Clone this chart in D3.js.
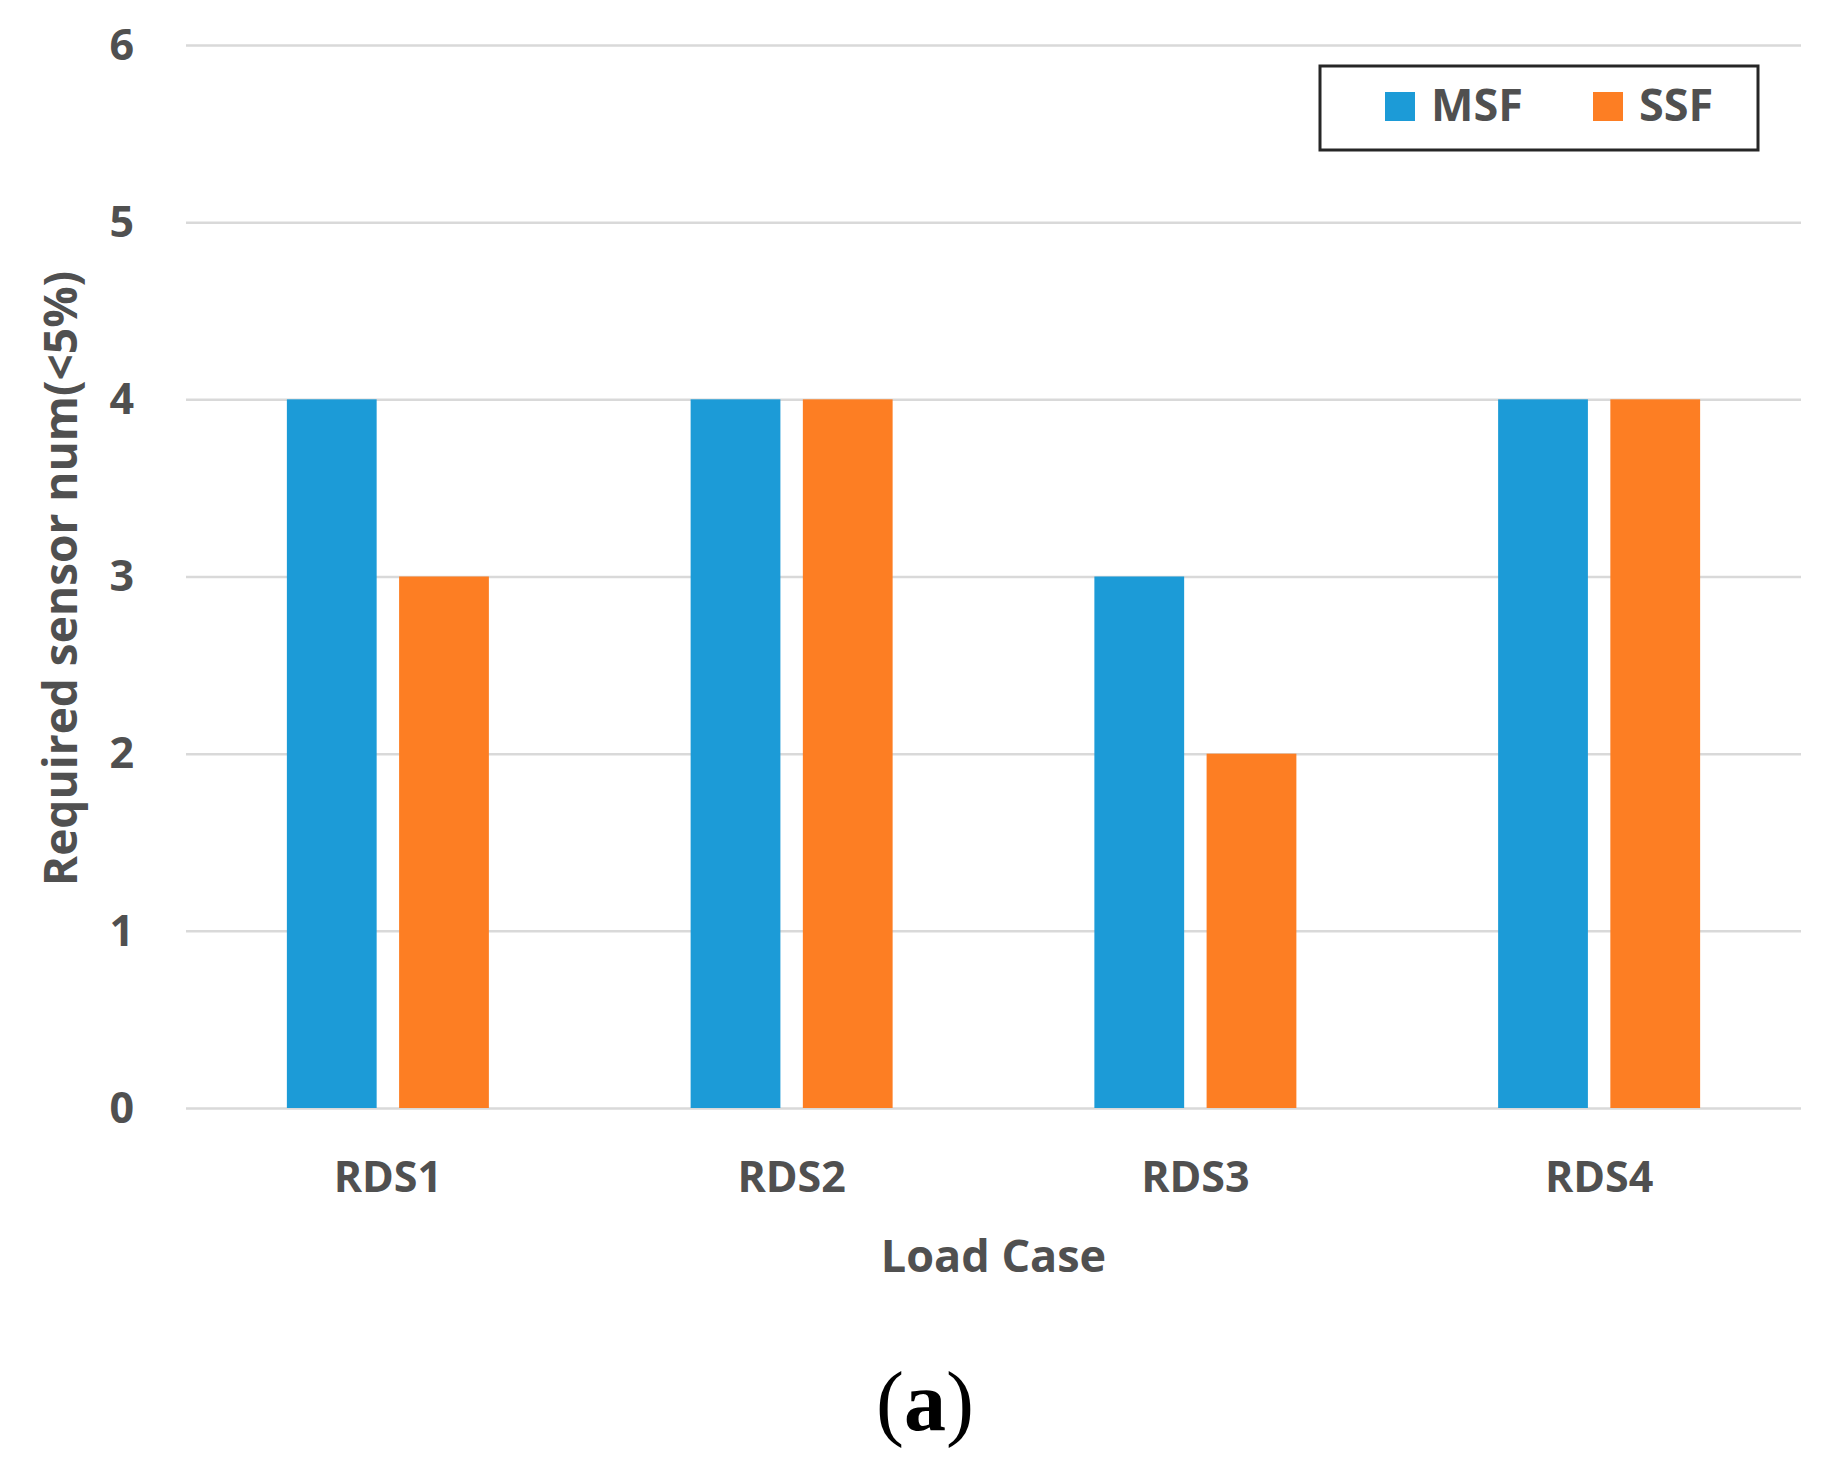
<!DOCTYPE html>
<html>
<head>
<meta charset="utf-8">
<script src="https://cdn.jsdelivr.net/npm/d3@7"></script>
<style>
  body { margin: 0; background: #fff; }
</style>
</head>
<body>
<div class="svg"></div>
<script>
var categories = ["RDS1", "RDS2", "RDS3", "RDS4"];
var seriesNames = ["MSF", "SSF"];
var msfValues = [4, 4, 3, 4];
var ssfValues = [3, 4, 2, 4];
var yTicks = [0, 1, 2, 3, 4, 5, 6];
var seriesColors = ["#1c9bd7", "#fd7e23"];

var W = 1832, H = 1468;
// plot box (named so they don't clash with window.top)
var plotL = 186, plotR = 1801, plotT = 45, plotB = 1108;
var textColor = "#505050";
var sansFont = "'Open Sans', 'Noto Sans', sans-serif";

var rows = categories.map(function (c, i) {
  return { cat: c, vals: [msfValues[i], ssfValues[i]] };
});

var svg = d3.select("div.svg").append("svg")
  .attr("width", W)
  .attr("height", H)
  .attr("font-family", sansFont);

var x0 = d3.scaleBand().domain(categories).range([plotL, plotR]).padding(0);
var x1 = d3.scaleBand().domain(seriesNames).range([-101, 101]).paddingInner(0.2);
var y = d3.scaleLinear().domain([0, 6]).range([plotB, plotT]);
var color = d3.scaleOrdinal().domain(seriesNames).range(seriesColors);

// gridlines + y tick labels
var yAxis = svg.append("g")
  .attr("transform", "translate(" + plotL + ",0)")
  .call(d3.axisLeft(y).tickValues(yTicks).tickSize(-(plotR - plotL)).tickPadding(52).tickFormat(d3.format("d")));
yAxis.select(".domain").remove();
yAxis.selectAll(".tick line").attr("stroke", "#d9d9d9").attr("stroke-width", 2.5);
yAxis.selectAll(".tick text")
  .attr("fill", textColor)
  .attr("font-size", 43)
  .attr("font-weight", "bold")
  .attr("font-family", sansFont)
  .attr("dy", "0.33em");

// bars
var groups = svg.selectAll("g.cat")
  .data(rows)
  .enter()
  .append("g")
  .attr("class", "cat")
  .attr("transform", function (d) { return "translate(" + (x0(d.cat) + x0.bandwidth() / 2) + ",0)"; });

groups.selectAll("rect")
  .data(function (d) { return d.vals.map(function (v, i) { return { key: seriesNames[i], v: v }; }); })
  .enter()
  .append("rect")
  .attr("x", function (d) { return x1(d.key); })
  .attr("width", x1.bandwidth())
  .attr("y", function (d) { return y(d.v); })
  .attr("height", function (d) { return y(0) - y(d.v); })
  .attr("fill", function (d) { return color(d.key); });

// x axis labels
var xAxis = svg.append("g")
  .attr("transform", "translate(0," + plotB + ")")
  .call(d3.axisBottom(x0).tickSize(0));
xAxis.select(".domain").remove();
xAxis.selectAll(".tick text")
  .attr("y", 84)
  .attr("dy", 0)
  .attr("fill", textColor)
  .attr("font-size", 43)
  .attr("font-weight", "bold")
  .attr("font-family", sansFont);

// axis titles
svg.append("text")
  .text("Load Case")
  .attr("x", (plotL + plotR) / 2)
  .attr("y", 1272)
  .attr("text-anchor", "middle")
  .attr("fill", textColor)
  .attr("font-size", 45)
  .attr("font-weight", "bold");

svg.append("text")
  .text("Required sensor num(<5%)")
  .attr("transform", "translate(77," + ((plotT + plotB) / 2 + 2) + ") rotate(-90)")
  .attr("text-anchor", "middle")
  .attr("fill", textColor)
  .attr("font-size", 46)
  .attr("font-weight", "bold");

// legend
var legend = svg.append("g");
legend.append("rect")
  .attr("x", 1320).attr("y", 66)
  .attr("width", 438).attr("height", 84)
  .attr("fill", "#fff")
  .attr("stroke", "#262626")
  .attr("stroke-width", 3);

var legendX = d3.scaleOrdinal().domain(seriesNames).range([1385, 1593]);
var items = legend.selectAll("g.item")
  .data(seriesNames)
  .enter()
  .append("g")
  .attr("class", "item")
  .attr("transform", function (d) { return "translate(" + legendX(d) + ",92)"; });
items.append("rect")
  .attr("width", 30).attr("height", 29)
  .attr("fill", function (d) { return color(d); });
items.append("text")
  .text(function (d) { return d; })
  .attr("x", 46).attr("y", 29)
  .attr("fill", textColor)
  .attr("font-size", 45)
  .attr("font-weight", "bold");

// panel label
var cap = svg.append("text")
  .attr("x", 925).attr("y", 1430)
  .attr("text-anchor", "middle")
  .attr("font-family", "'Liberation Serif', 'DejaVu Serif', serif")
  .attr("font-size", 84)
  .attr("fill", "#000");
cap.append("tspan").text("(");
cap.append("tspan").text("a").attr("font-weight", "bold");
cap.append("tspan").text(")");
</script>
</body>
</html>
